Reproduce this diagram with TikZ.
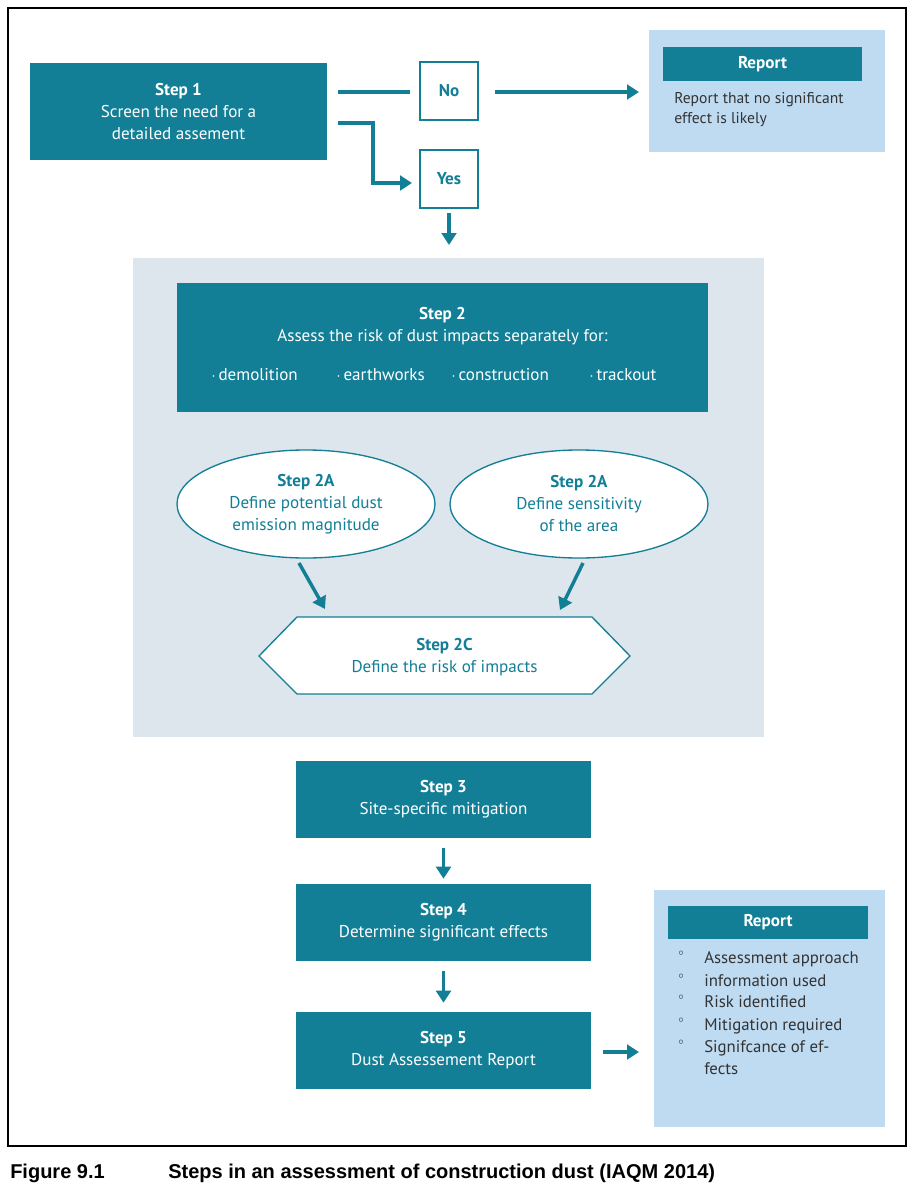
\documentclass[tikz,border=0pt]{standalone}
\usepackage{fontspec}
\setmainfont{PT Sans}
\newfontfamily\capfont{Liberation Sans}
\usetikzlibrary{arrows.meta,shapes.geometric}
\definecolor{teal1}{HTML}{127F97}
\definecolor{lblue}{HTML}{BEDBF2}
\definecolor{panel}{HTML}{DDE6EC}
\definecolor{dtext}{HTML}{333333}
\tikzset{
  tbox/.style={fill=teal1, draw=none, text=white, align=center, font=\fontsize{12.8}{16.5}\selectfont, inner sep=0pt},
  wbox/.style={fill=white, draw=teal1, line width=1.2pt, text=teal1, font=\bfseries\fontsize{12.8}{16.5}\selectfont, inner sep=0pt},
  ell/.style={ellipse, fill=white, draw=teal1, line width=1pt, text=teal1, align=center, font=\fontsize{12.8}{16.5}\selectfont, inner sep=0pt},
  lbbox/.style={fill=lblue, draw=none, inner sep=0pt},
  rtext/.style={text=dtext, align=left, font=\fontsize{11.7}{15}\selectfont, inner sep=0pt},
  conn/.style={draw=teal1, line width=2.6pt},
  arr/.style={conn, -{Triangle[length=9pt,width=11pt]}},
}
\begin{document}
\begin{tikzpicture}[x=0.75pt,y=-0.75pt]
\useasboundingbox (0,0) rectangle (914,1192);
\fill[white] (0,0) rectangle (914,1192);
\draw[black, line width=0.8pt] (8,8) rectangle (906,1146) node[coordinate] (frame) {};

% Step 1
\node[tbox, minimum width=297*0.75pt, minimum height=97*0.75pt] (s1) at (178.5,111.5) {\textbf{Step 1}\\Screen the need for a\\detailed assement};
\node[wbox, minimum width=58*0.75pt, minimum height=58*0.75pt] (no) at (449,91) {No};
\node[wbox, minimum width=58*0.75pt, minimum height=58*0.75pt] (yes) at (449,179) {Yes};

% Report 1
\node[lbbox, minimum width=236*0.75pt, minimum height=122*0.75pt] (r1) at (767,91) {};
\node[tbox, font=\bfseries\fontsize{12.8}{16}\selectfont, minimum width=199*0.75pt, minimum height=34*0.75pt] (r1h) at (762.5,64) {Report};
\node[rtext, anchor=north west] (r1t) at (674,92) {Report that no significant\\effect is likely};

\coordinate (s1a) at (338,92);
\coordinate (s1b) at (338,123);
\coordinate (noL) at (410,92);
\coordinate (noR) at (495,92);
\coordinate (r1in) at (639,92);
\coordinate (yesin) at (412,183);
\draw[conn] (s1a) -- (noL);
\draw[arr] (noR) -- (r1in);
\draw[arr] (s1b) -| (373,183) -- (yesin);
\coordinate (ya) at (449,213);
\coordinate (yb) at (449,245);
\draw[arr] (ya) -- (yb);

% Panel
\node[fill=panel, inner sep=0pt, minimum width=631*0.75pt, minimum height=479*0.75pt] (pan) at (448.5,497.5) {};
\node[fill=teal1, inner sep=0pt, minimum width=531*0.75pt, minimum height=129*0.75pt] (s2) at (442.5,347.5) {};
\node[tbox, fill=none] (s2t) at (442.5,326) {\textbf{Step 2}\\Assess the risk of dust impacts separately for:};
\node[tbox, fill=none, anchor=west] (b1) at (211,375) {$\cdot$\,demolition};
\node[tbox, fill=none, anchor=west] (b2) at (336,375) {$\cdot$\,earthworks};
\node[tbox, fill=none, anchor=west] (b3) at (451,375) {$\cdot$\,construction};
\node[tbox, fill=none, anchor=west] (b4) at (589,375) {$\cdot$\,trackout};

\node[ell, minimum width=258*0.75pt, minimum height=108*0.75pt] (e1) at (306,504) {\textbf{Step 2A}\\Define potential dust\\emission magnitude};
\node[ell, minimum width=258*0.75pt, minimum height=108*0.75pt] (e2) at (579,504) {\textbf{Step 2A}\\Define sensitivity\\of the area};

\draw[fill=white, draw=teal1, line width=1pt] (259,656) -- (297,617) -- (592,617) -- (630,656) -- (592,694) -- (297,694) -- cycle;
\node[tbox, fill=none, text=teal1] (s2c) at (444.5,657) {\textbf{Step 2C}\\Define the risk of impacts};

\coordinate (e1a) at (299,563);
\coordinate (e1b) at (325,609);
\coordinate (e2a) at (583,563);
\coordinate (e2b) at (560,610);
\draw[arr] (e1a) -- (e1b);
\draw[arr] (e2a) -- (e2b);

% Steps 3-5
\node[tbox, minimum width=295*0.75pt, minimum height=77*0.75pt] (s3) at (443.5,799.5) {\textbf{Step 3}\\Site-specific mitigation};
\node[tbox, minimum width=295*0.75pt, minimum height=77*0.75pt] (s4) at (443.5,922.5) {\textbf{Step 4}\\Determine significant effects};
\node[tbox, minimum width=295*0.75pt, minimum height=77*0.75pt] (s5) at (443.5,1050.5) {\textbf{Step 5}\\Dust Assessement Report};
\draw[arr] ([yshift=-10*0.75pt]s3.south) -- ([yshift=5*0.75pt]s4.north);
\draw[arr] ([yshift=-10*0.75pt]s4.south) -- ([yshift=9*0.75pt]s5.north);

% Report 2
\node[lbbox, minimum width=231*0.75pt, minimum height=237*0.75pt] (r2) at (769.5,1008.5) {};
\node[tbox, font=\bfseries\fontsize{12.8}{16}\selectfont, minimum width=200*0.75pt, minimum height=33*0.75pt] (r2h) at (768,922.5) {Report};
\coordinate (r5a) at (603,1052);
\coordinate (r5b) at (639,1052);
\draw[arr] (r5a) -- (r5b);
\foreach \i/\yy/\t in {1/963/Assessment approach, 2/986/information used, 3/1007/Risk identified, 4/1030/Mitigation required, 5/1052/Signifcance of ef-, 6/1074/fects}{
  \node[rtext, anchor=base west, font=\fontsize{12.6}{16}\selectfont] (li\i) at (704,\yy) {\t};
}
\foreach \i/\yy in {1/953,2/976,3/997,4/1020,5/1042}{
  \node[rtext, font=\fontsize{7}{8}\selectfont] (bu\i) at (681,\yy) {$\circ$};
}

% Caption
\node[anchor=base west, inner sep=0pt, font=\capfont\bfseries\fontsize{15}{17}\selectfont] (fig) at (10,1178) {Figure 9.1};
\node[anchor=base west, inner sep=0pt, font=\capfont\bfseries\fontsize{15}{17}\selectfont] (cap) at (168,1178) {Steps in an assessment of construction dust (IAQM 2014)};
\end{tikzpicture}
\end{document}
